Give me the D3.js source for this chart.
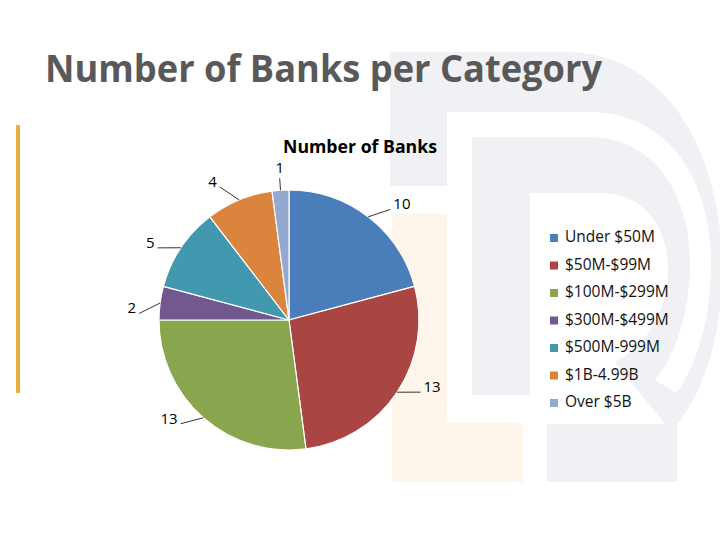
<!DOCTYPE html>
<html>
<head>
<meta charset="utf-8">
<script src="https://cdn.jsdelivr.net/npm/d3@7"></script>
<style>
  html, body { margin: 0; padding: 0; background: #ffffff; }
  svg { display: block; }
</style>
</head>
<body>
<div id="chart"></div>
<script>
// ---- data ----
const categories = ["Under $50M", "$50M-$99M", "$100M-$299M", "$300M-$499M", "$500M-999M", "$1B-4.99B", "Over $5B"];
const values = [10, 13, 13, 2, 5, 4, 1];
const colors = ["#4A7EBB", "#A94542", "#89A54E", "#71588F", "#4198AF", "#DB843D", "#93A9CF"];
const pageTitle = "Number of Banks per Category";
const chartTitle = "Number of Banks";

const W = 720, H = 540;
const svg = d3.select("#chart").append("svg").attr("width", W).attr("height", H);

// ---- decorative watermark background ----
const bg = svg.append("g");
const wmGray = "#F0F1F4";
// outer D
bg.append("path")
  .attr("d", "M390,52 H565 C665,52 722,150 722,270 C722,395 660,482 560,482 H390 Z")
  .attr("fill", wmGray);
// white gap inside the D
bg.append("path")
  .attr("d", "M447,112 H588 C672,112 711,185 711,262 C711,330 692,372 675,395 H547 V492 H384 V186 H447 Z")
  .attr("fill", "#ffffff");
// gray R body
bg.append("path")
  .attr("d", "M472,137 H588 C655,137 690,195 690,262 C690,320 672,360 655,380 L680,395 H472 Z")
  .attr("fill", wmGray);
// white counter of the R
bg.append("path")
  .attr("d", "M530,193 H600 C645,193 668,228 668,268 C668,318 640,350 615,362 L665,424 H530 Z")
  .attr("fill", "#ffffff");
// bottom band of the D under the R
bg.append("rect").attr("x", 547).attr("y", 424).attr("width", 130).attr("height", 58).attr("fill", wmGray);
// cream "L"
bg.append("path")
  .attr("d", "M392,213 H447 V423 H523 V482 H392 Z")
  .attr("fill", "#FEF6EA");
// yellow bar
bg.append("rect").attr("x", 16).attr("y", 125).attr("width", 4).attr("height", 268).attr("fill", "#E9AF3F");

// ---- page title ----
svg.append("text")
  .attr("x", 45).attr("y", 82)
  .attr("font-family", "'Open Sans', sans-serif")
  .attr("font-weight", "bold")
  .attr("font-size", 38)
  .attr("fill", "#595959")
  .attr("textLength", 557)
  .attr("lengthAdjust", "spacingAndGlyphs")
  .text(pageTitle);

// ---- chart title ----
svg.append("text")
  .attr("x", 360).attr("y", 153)
  .attr("text-anchor", "middle")
  .attr("font-family", "'Open Sans', sans-serif")
  .attr("font-weight", "bold")
  .attr("font-size", 17)
  .attr("fill", "#000000")
  .attr("textLength", 154)
  .attr("lengthAdjust", "spacingAndGlyphs")
  .text(chartTitle);

// ---- pie ----
const cx = 289, cy = 320, r = 130;
const data = categories.map((c, i) => ({ cat: c, value: values[i], color: colors[i] }));
const pie = d3.pie().value(d => d.value).sort(null);
const arcs = pie(data);
const arc = d3.arc().innerRadius(0).outerRadius(r);

const g = svg.append("g").attr("transform", `translate(${cx},${cy})`);
g.selectAll("path.slice").data(arcs).join("path")
  .attr("class", "slice")
  .attr("d", arc)
  .attr("fill", d => d.data.color)
  .attr("stroke", "#ffffff")
  .attr("stroke-width", 1.2);

// ---- labels with leader lines ----
const lab = g.append("g");
const shift = 5 * Math.PI / 180;
arcs.forEach(d => {
  const a = (d.startAngle + d.endAngle) / 2;
  const s = Math.sin(a), c = -Math.cos(a);
  const nearVertical = Math.abs(s) < 0.2;
  let a2 = a;
  if (!nearVertical) {
    const target = s > 0 ? Math.PI / 2 : 3 * Math.PI / 2;
    a2 = a + Math.sign(target - a) * shift;
  }
  const s2 = Math.sin(a2), c2 = -Math.cos(a2);
  const R2 = nearVertical ? 142 : 150;
  const x0 = r * s, y0 = r * c;
  const x1 = R2 * s2, y1 = R2 * c2;
  lab.append("line")
    .attr("x1", x0).attr("y1", y0).attr("x2", x1).attr("y2", y1)
    .attr("stroke", "#000000").attr("stroke-width", 0.8);
  let tx, ty, anchor;
  if (nearVertical) { tx = x1; ty = y1 + (c < 0 ? -9 : 12); anchor = "middle"; }
  else if (s > 0) { tx = x1 + 3; ty = y1 - 4; anchor = "start"; }
  else { tx = x1 - 3; ty = y1 - 4; anchor = "end"; }
  lab.append("text")
    .attr("x", tx).attr("y", ty)
    .attr("text-anchor", anchor)
    .attr("dominant-baseline", "middle")
    .attr("font-family", "'Open Sans', sans-serif")
    .attr("font-size", 15)
    .attr("fill", "#000000")
    .text(d.data.value);
});

// ---- legend ----
const legend = svg.append("g").attr("transform", "translate(550,238)");
const rowH = 27.5;
const items = legend.selectAll("g").data(data).join("g")
  .attr("transform", (d, i) => `translate(0,${i * rowH})`);
items.append("rect")
  .attr("x", 0).attr("y", -4).attr("width", 8).attr("height", 8)
  .attr("fill", d => d.color);
items.append("text")
  .attr("x", 15).attr("y", 0)
  .attr("dominant-baseline", "middle")
  .attr("font-family", "'Open Sans', sans-serif")
  .attr("font-size", 15.5)
  .attr("fill", "#111111")
  .text(d => d.cat);
</script>
</body>
</html>
